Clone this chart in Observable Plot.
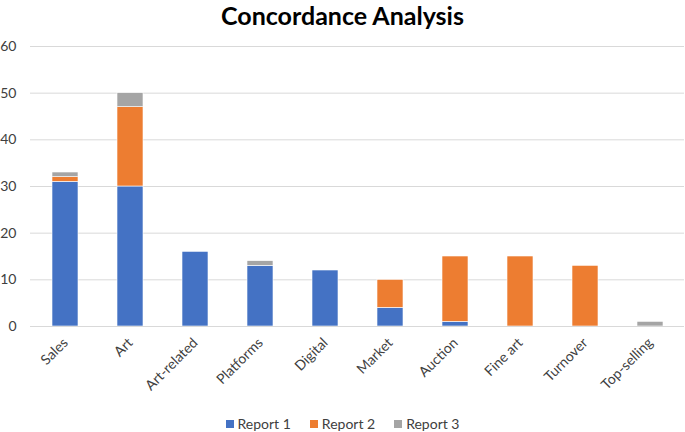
<!DOCTYPE html>
<html>
<head>
<meta charset="utf-8">
<script src="https://cdn.jsdelivr.net/npm/d3@7"></script>
<script src="https://cdn.jsdelivr.net/npm/@observablehq/plot@0.6"></script>
<style>
  body { margin: 0; background: #fff; font-family: Lato, "Open Sans", sans-serif; overflow: hidden; }
  #title { height: 32px; line-height: 30px; text-align: center; font-weight: bold; font-size: 25px; color: #000; }
  #legend { height: 25px; margin-top: 4px; display: flex; justify-content: center; align-items: center; gap: 19px; font-size: 14px; color: #404040; }
  .sw { display: inline-block; width: 8px; height: 8px; margin-right: 4px; }
  .item { display: flex; align-items: center; }
</style>
</head>
<body>
<div id="title">Concordance Analysis</div>
<div id="chart"></div>
<div id="legend"></div>
<script>
const categories = ["Sales", "Art", "Art-related", "Platforms", "Digital", "Market", "Auction", "Fine art", "Turnover", "Top-selling"];
const seriesNames = ["Report 1", "Report 2", "Report 3"];
const report1 = [31, 30, 16, 13, 12, 4, 1, 0, 0, 0];
const report2 = [1, 17, 0, 0, 0, 6, 14, 15, 13, 0];
const report3 = [1, 3, 0, 1, 0, 0, 0, 0, 0, 1];
const colors = ["#4472C4", "#ED7D31", "#A5A5A5"];
const yTicks = [0, 10, 20, 30, 40, 50, 60];

const seriesValues = [report1, report2, report3];
const data = [];
seriesNames.forEach((s, si) => {
  categories.forEach((c, ci) => {
    data.push({ category: c, series: s, value: seriesValues[si][ci] });
  });
});

const chart = Plot.plot({
  width: 685,
  height: 375,
  marginTop: 14,
  marginBottom: 81,
  marginLeft: 30,
  marginRight: 1,
  style: { fontFamily: "Lato, 'Open Sans', sans-serif", fontSize: "14px", color: "#404040", background: "#fff" },
  x: { domain: categories, paddingInner: 0.6, paddingOuter: 0.3, label: null, tickSize: 0, tickRotate: -45, tickPadding: 14 },
  y: { domain: [0, 60], ticks: yTicks, label: null, tickSize: 0, tickPadding: 14 },
  color: { domain: seriesNames, range: colors },
  marks: [
    Plot.gridY(yTicks, { stroke: "#d9d9d9", strokeOpacity: 1, strokeWidth: 1 }),
    Plot.barY(data, Plot.stackY({ x: "category", y: "value", fill: "series", order: seriesNames, stroke: "#fff", strokeWidth: 0.6 })),
    Plot.ruleY([0], { stroke: "#d9d9d9" })
  ]
});
document.getElementById("chart").appendChild(chart);

const legend = document.getElementById("legend");
seriesNames.forEach((s, i) => {
  const item = document.createElement("span");
  item.className = "item";
  item.innerHTML = `<span class="sw" style="background:${colors[i]}"></span>${s}`;
  legend.appendChild(item);
});
</script>
</body>
</html>
